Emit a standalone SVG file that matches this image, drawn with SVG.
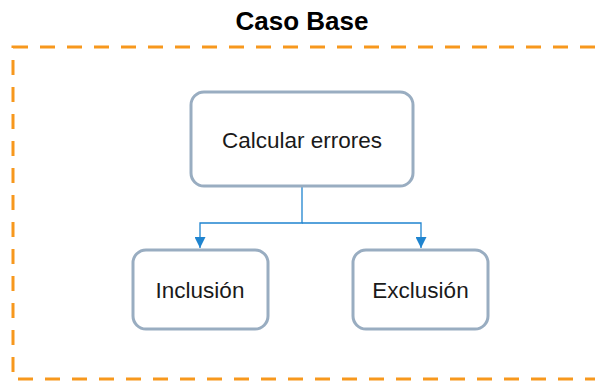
<svg xmlns="http://www.w3.org/2000/svg" width="595" height="381" viewBox="0 0 595 381">
<style>
.node{fill:#ffffff;stroke:#99adc1;stroke-width:3}
.lbl{font-family:"Liberation Sans",Arial,sans-serif;font-size:22.5px;fill:#1a1a1a;text-anchor:middle}
.title{font-family:"Liberation Sans",Arial,sans-serif;font-size:26px;font-weight:bold;fill:#000;text-anchor:middle}
.edge{fill:none;stroke:#1f84cf;stroke-width:1.3}
</style>
<defs>
<marker id="arr" viewBox="0 0 10 10" refX="10" refY="5" markerWidth="11" markerHeight="11" markerUnits="userSpaceOnUse" orient="auto">
<path d="M0,0 L10,5 L0,10 Z" fill="#1f84cf"/>
</marker>
</defs>
<rect width="595" height="381" fill="#ffffff"/>
<g id="frame">
<rect x="13" y="47" width="600" height="332" fill="none" stroke="#f7981d" stroke-width="3" stroke-dasharray="15 12"/>
<text class="title" x="302" y="30">Caso Base</text>
</g>
<g id="connectors">
<path class="edge" d="M302,187 V223 H200 V248" marker-end="url(#arr)"/>
<path class="edge" d="M302,223 H421 V248" marker-end="url(#arr)"/>
</g>
<g id="calcular">
<rect class="node" x="191" y="92" width="222" height="94" rx="13"/>
<text class="lbl" x="302" y="148">Calcular errores</text>
</g>
<g id="inclusion">
<rect class="node" x="133" y="250" width="135" height="79" rx="13"/>
<text class="lbl" x="200" y="298">Inclusión</text>
</g>
<g id="exclusion">
<rect class="node" x="353" y="250" width="135" height="79" rx="13"/>
<text class="lbl" x="420.5" y="298">Exclusión</text>
</g>
</svg>
